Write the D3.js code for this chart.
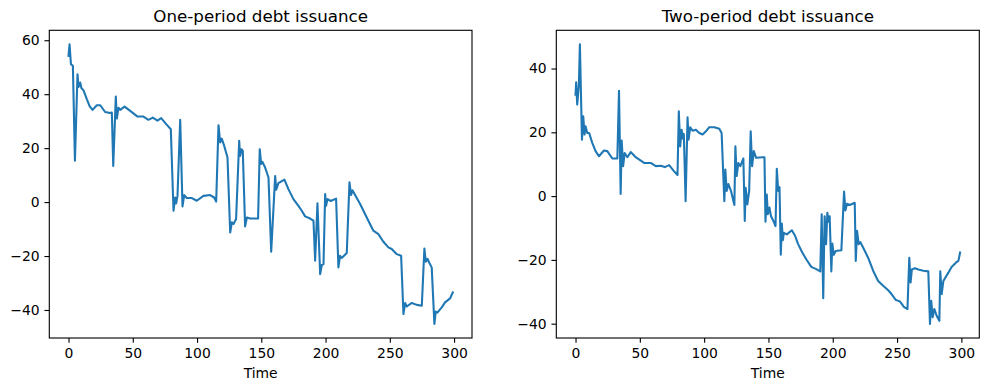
<!DOCTYPE html>
<html>
<head>
<meta charset="utf-8">
<script src="https://cdn.jsdelivr.net/npm/d3@7"></script>
<style>
    body { margin: 0; background: #fff; }
    text { font-family: "DejaVu Sans", sans-serif; fill: #000; }
</style>
</head>
<body>
<div id="visualizationTarget"></div>
<script>
// values
var oneTime = [0, 0.8, 1.9, 3.4, 5.0, 7.0, 7.8, 9.1, 10.0, 11.7, 14.3, 16.5, 18.7, 22, 24.7, 28.5, 32.4, 33.7, 34.8, 36.8,
    37.6, 38.9, 40.2, 43.6, 48, 53.7, 58.3, 62.2, 65.6, 69.2, 72.1, 76, 79.6, 81.7, 83, 83.8, 84.8, 86.9, 88.7, 90,
    92, 96, 99.8, 105, 110.2, 113.3, 114.9, 116.7, 118, 119.2, 121.1, 123.7, 125.8, 127.1, 128.4, 130.4, 132.8, 133.5, 134.6, 135.6,
    137.4, 138.8, 141.3, 147.5, 148.8, 149.9, 150.9, 153, 155.6, 157.7, 160.8, 161.6, 163.3, 168, 171.1, 175, 178.9, 181.5, 184.1, 188,
    190.6, 191.9, 193.7, 195.8, 197.1, 198.4, 199.7, 200.4, 201.5, 204, 208.2, 210, 211.3, 212.6, 216.5, 218.6, 219.9, 220.9, 223, 226.9,
    229.5, 233.3, 237.2, 241.1, 245, 248.9, 251.5, 255.4, 258.8, 260.6, 261.9, 263.2, 267.1, 271, 274.9, 276.9, 278, 279.3, 280.6, 282.6,
    284.7, 285.7, 287, 290.4, 293, 296.9, 299];
var oneValue = [54.2, 58.5, 51.1, 50.5, 15.3, 47.4, 42.7, 44.3, 42.3, 41.4, 38.1, 35.5, 34.2, 35.9, 35.9, 33.4, 33.0, 33.2, 13.4, 39.1,
    31.0, 35.0, 34.2, 35.4, 33.8, 31.7, 31.7, 30.5, 31.3, 30.2, 31.1, 28.9, 27.0, -3.2, 1.7, -0.5, 2.3, 30.5, -1.6, 2.6,
    1.5, 1.5, 0.5, 2.3, 2.6, 1.7, 0.2, 28.5, 22.1, 23.5, 20.9, 16.5, -11.3, -7.5, -8.1, -6.3, 22.7, 17.1, 19.6, 19.0,
    -9.0, -5.7, -6.1, -6.1, 19.6, 14.1, 14.9, 12.8, 9.1, -18.4, 9.7, 4.6, 7.0, 8.3, 4.8, 1.1, -1.4, -3.2, -5.3, -6.1,
    -6.9, -21.7, -0.4, -26.7, -23.3, -23.0, 3.0, -1.4, 1.1, 0.4, 1.3, -24.2, -19.9, -20.7, -18.9, 7.3, 2.6, 4.4, 2.6, -0.7,
    -3.2, -6.9, -10.6, -11.9, -14.7, -16.8, -17.4, -19.3, -19.9, -41.5, -37.4, -38.7, -37.4, -38.1, -38.4, -17.2, -22.1, -21.0, -22.4, -24.2,
    -45.2, -40.6, -41.0, -39.0, -37.2, -35.7, -33.5];

var twoTime = [0, 0.5, 1.3, 2.6, 3.4, 5.0, 6.0, 7.0, 7.8, 9.1, 10.6, 13, 15.6, 18.2, 22.1, 24.7, 28.6, 32.5, 33.8, 35.1,
    35.9, 37, 38.2, 40.3, 42.9, 46.8, 53.3, 58.5, 62.4, 66.3, 69.4, 72.8, 76.2, 79.3, 80.3, 81.4, 82.5, 83.5, 84.2, 85.6,
    87.1, 87.9, 89.2, 91, 93.6, 96.2, 98.8, 101.4, 104, 107.9, 111.8, 113.6, 115.7, 116.5, 117.5, 118.8, 120.9, 123.5, 124.3, 125.3,
    126.6, 128.2, 130.5, 131.6, 132.3, 133.6, 135, 136.2, 137.3, 138.6, 140.4, 145.6, 146.9, 147.7, 148.7, 149.5, 150.8, 152, 153.9, 155.5,
    156.5, 157.6, 158.6, 159.6, 160.4, 161.2, 162, 164.3, 168.2, 170.8, 172.9, 176.3, 179.9, 183.3, 187.2, 190.3, 191.4, 192.6, 193.7, 194.8,
    195.8, 196.8, 197.6, 198.9, 199.7, 200.8, 202.3, 206.7, 208.8, 209.8, 211.1, 213.2, 217.1, 217.9, 218.9, 220.2, 221.4, 223.6, 227.5, 231.4,
    235.3, 239.2, 243.1, 245.7, 249.1, 252.2, 255.3, 258.1, 259.5, 260.5, 261.5, 263.9, 266.5, 270.4, 274.3, 275.6, 276.6, 277.7, 279, 280.8,
    282.9, 283.6, 284.7, 286, 289.9, 292.4, 295.9, 297.7, 299];
var twoValue = [31.8, 35.7, 28.7, 34.9, 47.6, 17.7, 25.0, 19.3, 21.9, 19.8, 19.8, 16.7, 14.1, 12.5, 14.3, 14.1, 11.8, 11.8, 33.0, 0.7,
    17.4, 9.4, 13.5, 12.2, 13.8, 12.2, 10.4, 10.4, 9.4, 9.5, 9.1, 9.7, 8.0, 6.6, 26.6, 15.6, 20.8, 18.0, 19.5, -1.6,
    24.7, 17.7, 21.6, 20.5, 20.8, 19.8, 19.3, 20.3, 21.6, 21.6, 21.1, 19.8, -1.6, 8.3, 1.6, 3.8, 1.6, -2.8, 15.6, 6.3,
    10.4, 9.4, 11.8, -7.8, 2.6, -2.6, 1.6, 20.3, 9.4, 14.1, 12.0, 12.2, 12.2, -8.0, 0.5, -5.7, -3.6, -6.3, -7.8, -9.4,
    8.6, 1.6, 2.8, -18.4, -8.6, -13.8, -11.5, -12.0, -10.7, -12.5, -14.9, -17.7, -20.1, -22.2, -22.9, -23.6, -5.7, -32.0, -6.3, -15.1,
    -5.2, -8.0, -6.3, -23.6, -14.9, -18.4, -17.2, -17.0, 1.4, -4.5, -2.4, -2.8, -2.1, -20.3, -10.9, -15.1, -14.4, -16.1, -19.3, -23.4,
    -26.6, -28.1, -29.5, -30.7, -32.6, -33.0, -34.7, -35.4, -19.3, -27.1, -23.0, -22.6, -23.0, -23.4, -23.6, -40.1, -32.8, -38.0, -35.4, -37.5,
    -39.1, -23.6, -30.7, -26.6, -24.0, -22.2, -20.8, -20.3, -17.7];

var timeTicks = [0, 50, 100, 150, 200, 250, 300];
var oneTicks = [-40, -20, 0, 20, 40, 60];
var twoTicks = [-40, -20, 0, 20, 40];

var titles = ["One-period debt issuance", "Two-period debt issuance"];
var xLabel = "Time";

var width = 989;
var height = 391;

var svg = d3.select("#visualizationTarget")
    .append("svg")
    .attr("width", width)
    .attr("height", height);

// matplotlib-ish sizes (dpi 100)
var tickLen = 4.86;
var tickPad = 4.86;
var fmt = function(d) { return String(d).replace("-", "\u2212"); };

function drawPanel(left, right, top, bottom, times, values, yTicks, title) {
    var pts = times.map(function(t, i) { return { t: t, v: values[i] }; });

    // 5% margins like matplotlib autoscale
    var tMin = 0, tMax = 299;
    var tPad = (tMax - tMin) * 0.05;
    var vExt = d3.extent(values);
    var vPad = (vExt[1] - vExt[0]) * 0.05;

    var x = d3.scaleLinear()
        .domain([tMin - tPad, tMax + tPad])
        .range([left, right]);
    var y = d3.scaleLinear()
        .domain([vExt[0] - vPad, vExt[1] + vPad])
        .range([bottom, top]);

    var g = svg.append("g");

    g.append("path")
        .datum(pts)
        .attr("fill", "none")
        .attr("stroke", "#1f77b4")
        .attr("stroke-width", 2.08)
        .attr("stroke-linejoin", "round")
        .attr("stroke-linecap", "square")
        .attr("d", d3.line()
            .x(function(d) { return x(d.t); })
            .y(function(d) { return y(d.v); }));

    var xAxis = g.append("g")
        .attr("transform", "translate(0," + bottom + ")")
        .call(d3.axisBottom(x).tickValues(timeTicks).tickFormat(fmt)
            .tickSizeInner(tickLen).tickSizeOuter(0).tickPadding(tickPad));
    var yAxis = g.append("g")
        .attr("transform", "translate(" + left + ",0)")
        .call(d3.axisLeft(y).tickValues(yTicks).tickFormat(fmt)
            .tickSizeInner(tickLen).tickSizeOuter(0).tickPadding(tickPad));

    [xAxis, yAxis].forEach(function(a) {
        a.select(".domain").remove();
        a.selectAll("line").attr("stroke", "#000").attr("stroke-width", 1.11);
        a.selectAll("text")
            .style("font-family", "'DejaVu Sans', sans-serif")
            .style("font-size", "13.9px")
            .attr("fill", "#000");
    });

    // frame
    g.append("rect")
        .attr("x", left)
        .attr("y", top)
        .attr("width", right - left)
        .attr("height", bottom - top)
        .attr("fill", "none")
        .attr("stroke", "#000")
        .attr("stroke-width", 1.11);

    g.append("text")
        .attr("x", (left + right) / 2)
        .attr("y", top - 8.3)
        .attr("text-anchor", "middle")
        .style("font-size", "16.7px")
        .text(title);

    g.append("text")
        .attr("x", (left + right) / 2)
        .attr("y", 378)
        .attr("text-anchor", "middle")
        .style("font-size", "13.9px")
        .text(xLabel);
}

drawPanel(49.3, 472, 30.3, 338, oneTime, oneValue, oneTicks, titles[0]);
drawPanel(556.3, 979.3, 30.3, 338, twoTime, twoValue, twoTicks, titles[1]);
</script>
</body>
</html>
